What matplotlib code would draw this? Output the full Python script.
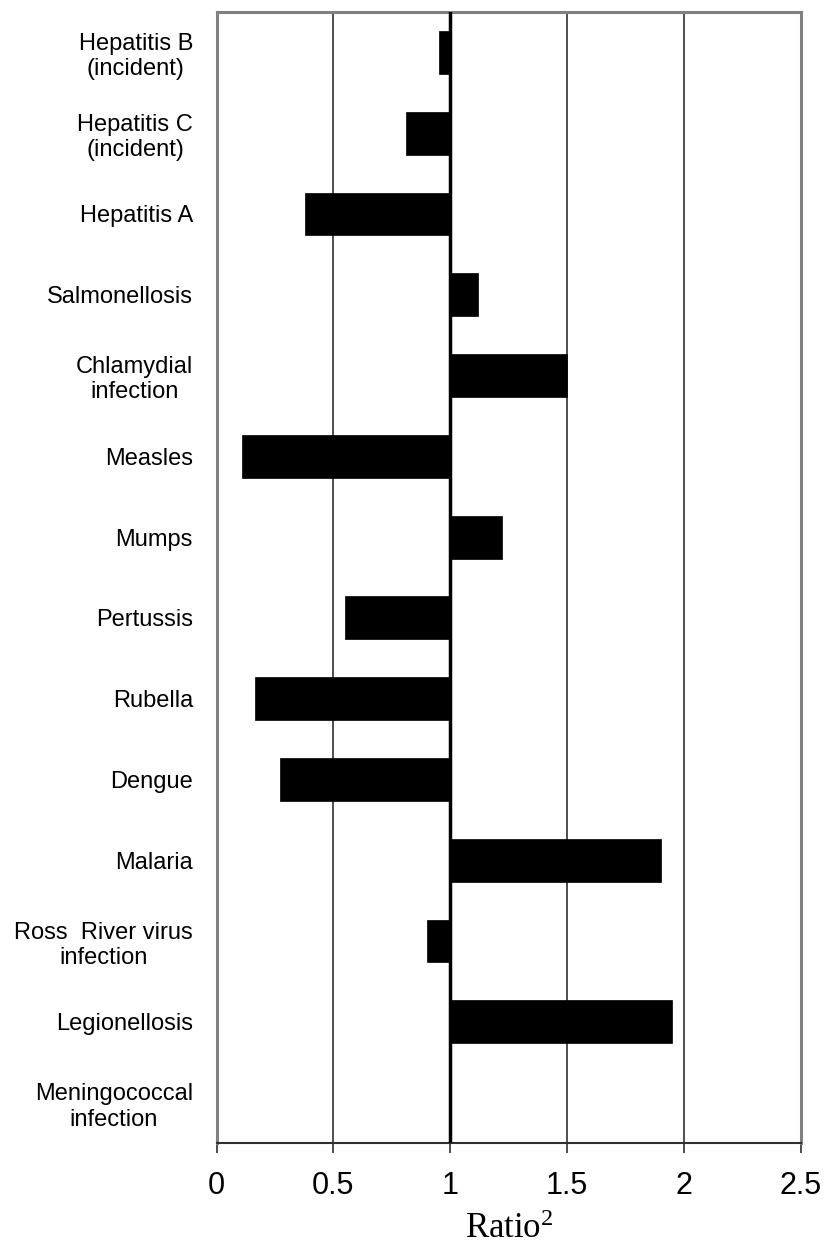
import matplotlib
matplotlib.use("Agg")
import matplotlib.pyplot as plt

plt.rcParams["mathtext.fontset"] = "custom"
plt.rcParams["mathtext.rm"] = "Liberation Serif"
plt.rcParams["mathtext.it"] = "Liberation Serif:italic"
plt.rcParams["mathtext.bf"] = "Liberation Serif:bold"

categories = [
    "Hepatitis B\n(incident)",
    "Hepatitis C\n(incident)",
    "Hepatitis A",
    "Salmonellosis",
    "Chlamydial\ninfection",
    "Measles",
    "Mumps",
    "Pertussis",
    "Rubella",
    "Dengue",
    "Malaria",
    "Ross  River virus\ninfection",
    "Legionellosis",
    "Meningococcal\ninfection",
]
ratios = [0.95, 0.81, 0.38, 1.12, 1.50, 0.11, 1.22, 0.55, 0.165, 0.27, 1.90, 0.90, 1.95, 1.00]
baseline = 1.0
xticks = [0, 0.5, 1, 1.5, 2, 2.5]
xticklabels = ["0", "0.5", "1", "1.5", "2", "2.5"]

fig = plt.figure(figsize=(8.25, 12.44), dpi=100)
ax = fig.add_axes([216.5 / 825, 1 - 1143 / 1244, (801 - 216.5) / 825, (1143 - 12) / 1244])

ypos = list(range(len(categories)))
widths = [r - baseline for r in ratios]
ax.barh(ypos, widths, left=baseline, height=0.53, color="black", edgecolor="black", linewidth=0.5, zorder=3)

ax.set_xlim(0, 2.5)
ax.set_ylim(len(categories) - 0.5, -0.5)

for xv in [0.5, 1.5, 2.0]:
    ax.axvline(xv, color="#404040", linewidth=1.3, zorder=1)
ax.axvline(1.0, color="black", linewidth=2.5, zorder=4)

for side in ["top", "left", "right"]:
    ax.spines[side].set_color("#808080")
    ax.spines[side].set_linewidth(2.2)
ax.spines["bottom"].set_color("#303030")
ax.spines["bottom"].set_linewidth(1.5)

ax.set_xticks(xticks)
ax.set_xticklabels(xticklabels, fontfamily="Liberation Sans", fontsize=22)
ax.tick_params(axis="x", direction="out", length=7, width=1.2, color="#303030", pad=13)

ax.set_yticks(ypos)
ax.set_yticklabels(categories, fontfamily="Liberation Sans", fontsize=17,
                   multialignment="center", linespacing=1.2)
ax.tick_params(axis="y", length=0, pad=17)

ax.set_xlabel("Ratio$^2$", fontsize=25, labelpad=9, fontfamily="Liberation Serif")

fig.savefig("out.png", dpi=100, facecolor="white")
